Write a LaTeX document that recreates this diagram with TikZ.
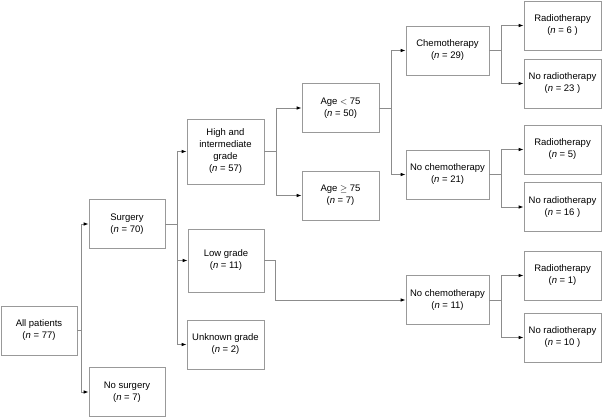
\documentclass[tikz,border=0pt]{standalone}
\usepackage{fontspec}
\setmainfont{Liberation Sans}
\usetikzlibrary{arrows.meta}
\tikzset{
  box/.style={draw=black!40, line width=0.8pt, fill=white, align=center, inner sep=0pt,
    font=\fontsize{9.5}{12}\selectfont, minimum width=#1, minimum height=49pt},
  box/.default=77pt,
  link/.style={draw=black!45, line width=0.8pt},
  arr/.style={link, -{Latex[color=black,length=5pt,width=3.6pt]}}
}
\newcommand{\nn}[1]{(\textit{n} = #1)}
\begin{document}
\begin{tikzpicture}[x=1pt,y=-1pt]
\useasboundingbox (0,0) rectangle (602,418);
\node[box=76pt] (all) at (39,330.5) {All patients\\\nn{77}};
\node[box=76pt] (surg) at (127,224) {Surgery\\\nn{70}};
\node[box=76pt] (nosurg) at (127,392) {No surgery\\\nn{7}};
\node[box, minimum height=65pt] (hi) at (225.5,151.5) {High and\\intermediate\\grade\\\nn{57}};
\node[box=76pt, minimum height=63pt] (low) at (226,260.5) {Low grade\\\nn{11}};
\node[box] (unk) at (225.5,344.5) {Unknown grade\\\nn{2}};
\node[box] (young) at (340.5,108) {Age $<$ 75\\\nn{50}};
\node[box] (old) at (340.5,195.5) {Age $\geq$ 75\\\nn{7}};
\node[box=83pt] (chemo) at (447.5,50.5) {Chemotherapy\\\nn{29}};
\node[box=83pt] (nochemoA) at (447.5,174.5) {No chemotherapy\\\nn{21}};
\node[box=83pt] (nochemoB) at (447.5,300) {No chemotherapy\\\nn{11}};
\node[box] (rA) at (562.5,25.5) {Radiotherapy\\\nn{6 }};
\node[box] (nrA) at (562.5,83.5) {No radiotherapy\\\nn{23 }};
\node[box] (rB) at (562.5,149.5) {Radiotherapy\\\nn{5}};
\node[box] (nrB) at (562.5,207) {No radiotherapy\\\nn{16 }};
\node[box] (rC) at (562.5,275.5) {Radiotherapy\\\nn{1}};
\node[box] (nrC) at (562.5,337.5) {No radiotherapy\\\nn{10 }};
% splits
\draw[link] (all.east) -- ++(4,0) coordinate (s1);
\draw[arr] (s1) |- (surg.west);
\draw[arr] (s1) |- (nosurg.west);
\draw[link] (surg.east) -- ++(12,0) coordinate (s2);
\draw[arr] (s2) |- (hi.west);
\draw[arr] (s2) |- (low.west);
\draw[arr] (s2) |- (unk.west);
\draw[link] (hi.east) -- ++(12,0) coordinate (s3);
\draw[arr] (s3) |- (young.west);
\draw[arr] (s3) |- (old.west);
\draw[link] (young.east) -- ++(12,0) coordinate (s4);
\draw[arr] (s4) |- (chemo.west);
\draw[arr] (s4) |- (nochemoA.west);
\draw[arr] (low.east) -- ++(11,0) |- (nochemoB.west);
\draw[link] (chemo.east) -- ++(12,0) coordinate (s5);
\draw[arr] (s5) |- (rA.west);
\draw[arr] (s5) |- (nrA.west);
\draw[link] (nochemoA.east) -- ++(12,0) coordinate (s6);
\draw[arr] (s6) |- (rB.west);
\draw[arr] (s6) |- (nrB.west);
\draw[link] (nochemoB.east) -- ++(12,0) coordinate (s7);
\draw[arr] (s7) |- (rC.west);
\draw[arr] (s7) |- (nrC.west);
\end{tikzpicture}
\end{document}
